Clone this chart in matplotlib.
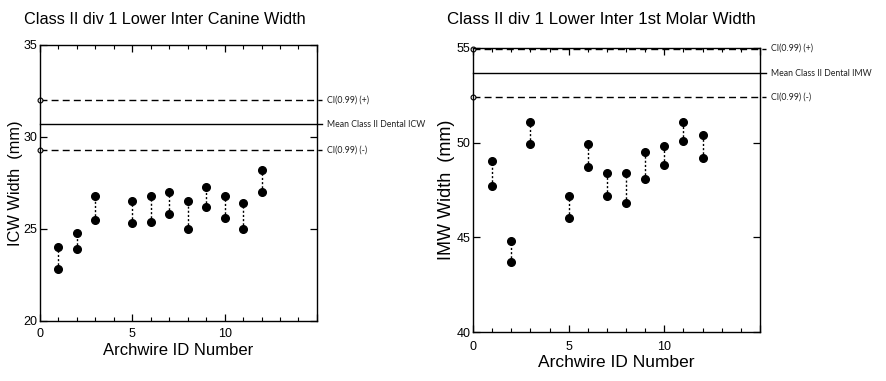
"""Class II div 1 lower arch widths per archwire (ICW and IMW)."""

import matplotlib

matplotlib.use("Agg")
import matplotlib.pyplot as plt
from matplotlib.ticker import MultipleLocator

archwire_ids = [1, 2, 3, 5, 6, 7, 8, 9, 10, 11, 12]

icw_upper = [24.0, 24.8, 26.8, 26.5, 26.8, 27.0, 26.5, 27.3, 26.8, 26.4, 28.2]
icw_lower = [22.8, 23.9, 25.5, 25.3, 25.4, 25.8, 25.0, 26.2, 25.6, 25.0, 27.0]
icw_ci_upper = 32.0
icw_mean = 30.7
icw_ci_lower = 29.3

imw_upper = [49.0, 44.8, 51.1, 47.2, 49.9, 48.4, 48.4, 49.5, 49.8, 51.1, 50.4]
imw_lower = [47.7, 43.7, 49.9, 46.0, 48.7, 47.2, 46.8, 48.1, 48.8, 50.1, 49.2]
imw_ci_upper = 54.95
imw_mean = 53.65
imw_ci_lower = 52.4

FONT = "Liberation Sans"
NOTE_FONT = "Lato"


def draw_panel(fig, rect, upper, lower, refs, ylim, ylabel, mean_label,
               xpad, ylabel_x, xlabel_size, ylabel_size):
    ax = fig.add_axes(rect)
    ax.set_xlim(0, 15)
    ax.set_ylim(*ylim)

    for x, hi, lo in zip(archwire_ids, upper, lower):
        ax.plot([x, x], [lo, hi], color="black", linestyle=(0, (1.5, 1.5)), linewidth=1.0)
    ax.plot(archwire_ids, upper, "o", color="black", markersize=5.5)
    ax.plot(archwire_ids, lower, "o", color="black", markersize=5.5)

    ci_hi, mean, ci_lo = refs
    ax.plot([0, 15.3], [ci_hi, ci_hi], color="black", linestyle=(0, (5, 3)), linewidth=1.0, clip_on=False)
    ax.plot([0, 15.3], [mean, mean], color="black", linewidth=1.0, clip_on=False)
    ax.plot([0, 15.3], [ci_lo, ci_lo], color="black", linestyle=(0, (5, 3)), linewidth=1.0, clip_on=False)
    ax.plot([0, 0], [ci_hi, ci_lo], "o", markersize=3.5, markerfacecolor="white",
            markeredgecolor="black", markeredgewidth=0.8, clip_on=False)

    for y, text in [(ci_hi, "CI(0.99) (+)"), (mean, mean_label), (ci_lo, "CI(0.99) (-)")]:
        ax.text(15.55, y, text, fontsize=6.3, family=NOTE_FONT, va="center", ha="left", color="#222222")

    ax.xaxis.set_major_locator(MultipleLocator(5))
    ax.xaxis.set_minor_locator(MultipleLocator(1))
    ax.yaxis.set_major_locator(MultipleLocator(5))
    ax.tick_params(which="both", direction="in", top=True, right=True, labelsize=9, pad=2)
    ax.tick_params(axis="x", which="major", pad=xpad)
    ax.tick_params(which="major", length=5, width=0.9)
    ax.tick_params(which="minor", length=3, width=0.8)
    ax.set_xticks([0, 5, 10, 15], ["0", "5", "10", ""])
    for lab in ax.get_xticklabels() + ax.get_yticklabels():
        lab.set_fontfamily(FONT)
    for spine in ax.spines.values():
        spine.set_linewidth(1.0)

    ax.set_xlabel("Archwire ID Number", fontsize=xlabel_size, family=FONT)
    ax.xaxis.set_label_coords(0.5, -0.079)
    ax.set_ylabel(ylabel, fontsize=ylabel_size, family=FONT)
    ax.yaxis.set_label_coords(ylabel_x, 0.5)
    return ax


fig = plt.figure(figsize=(8.86, 3.81), dpi=100)

draw_panel(fig, [0.0451, 0.1575, 0.3126, 0.7244], icw_upper, icw_lower,
           (icw_ci_upper, icw_mean, icw_ci_lower), (20, 35),
           "ICW Width  (mm)", "Mean Class II Dental ICW", 5, -0.061, 12, 11.8)
draw_panel(fig, [0.5339, 0.1278, 0.3239, 0.7472], imw_upper, imw_lower,
           (imw_ci_upper, imw_mean, imw_ci_lower), (40, 55),
           "IMW Width  (mm)", "Mean Class II Dental IMW", 6, -0.063, 12.5, 13)

fig.text(24 / 886, 1 - 20 / 381, "Class II div 1 Lower Inter Canine Width",
         fontsize=11.7, family=FONT, va="center", ha="left")
fig.text(447 / 886, 1 - 20 / 381, "Class II div 1 Lower Inter 1st Molar Width",
         fontsize=12.2, family=FONT, va="center", ha="left")

fig.savefig("out.png", dpi=100)
